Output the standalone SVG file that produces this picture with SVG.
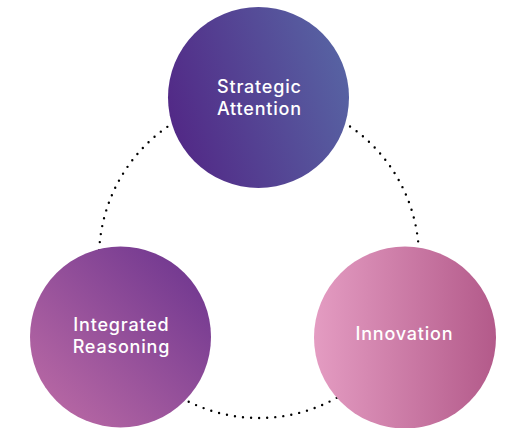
<svg xmlns="http://www.w3.org/2000/svg" width="507" height="428" viewBox="0 0 507 428">
  <defs>
    <linearGradient id="gradTop" x1="0" y1="0.65" x2="1" y2="0.35">
      <stop offset="0" stop-color="#522886"/>
      <stop offset="1" stop-color="#5763a3"/>
    </linearGradient>
    <linearGradient id="gradLeft" x1="0.1" y1="0.9" x2="0.9" y2="0.1">
      <stop offset="0" stop-color="#b868a4"/>
      <stop offset="1" stop-color="#713890"/>
    </linearGradient>
    <linearGradient id="gradRight" x1="0" y1="0.5" x2="1" y2="0.5">
      <stop offset="0" stop-color="#e49cc2"/>
      <stop offset="1" stop-color="#b35a8a"/>
    </linearGradient>
  </defs>
  <style>
    .ring { fill: none; stroke: #000; stroke-width: 2.4; stroke-linecap: round; stroke-dasharray: 0 8.1; }
    .label { font-family: "Inter", "Liberation Sans", sans-serif; font-size: 18px; font-weight: 500; letter-spacing: 0.8px; fill: #ffffff; text-anchor: middle; }
  </style>

  <!-- dotted cycle linking the three nodes -->
  <g id="connectors">
    <circle class="ring" cx="259" cy="258" r="160"/>
  </g>

  <g id="strategic-attention">
    <circle cx="258.5" cy="97.5" r="90.5" fill="url(#gradTop)"/>
    <text class="label" x="259.4" y="92.7">Strategic</text>
    <text class="label" x="259.4" y="115">Attention</text>
  </g>

  <g id="integrated-reasoning">
    <circle cx="120.5" cy="337" r="90.5" fill="url(#gradLeft)"/>
    <text class="label" x="121.4" y="331">Integrated</text>
    <text class="label" x="121.4" y="353">Reasoning</text>
  </g>

  <g id="innovation">
    <circle cx="405" cy="337.5" r="91" fill="url(#gradRight)"/>
    <text class="label" x="404.4" y="339.5">Innovation</text>
  </g>
</svg>
